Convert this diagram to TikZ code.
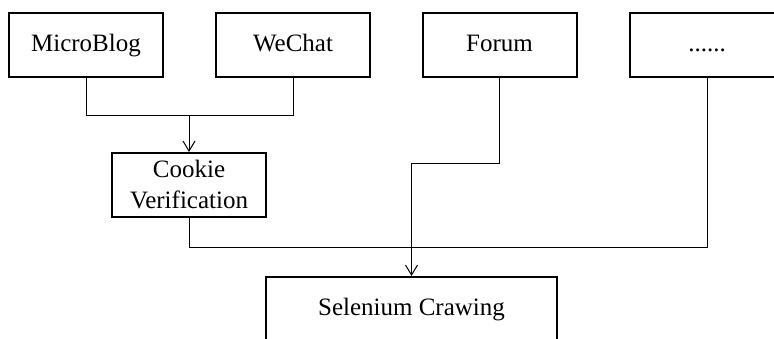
\documentclass[tikz,border=0pt]{standalone}
\usepackage{fontspec}
\setmainfont{Liberation Serif}
\usetikzlibrary{arrows.meta}

\begin{document}
\begin{tikzpicture}[
        x=0.5pt, y=-0.5pt,
        box/.style={
        rectangle, draw=black, line width=1pt,
        inner sep=0pt, minimum width=77pt, minimum height=32pt,
        align=center, font=\fontsize{12.5}{15.5}\selectfont},
        oneline/.style={text height=1.5ex, text depth=0pt},
        link/.style={line width=0.5pt},
        ]

        \useasboundingbox (0,0) rectangle (774,338);
        \clip (0,0) rectangle (774,338);

        \node (mb) [box, oneline] at (86,45){MicroBlog};
        \node (wc) [box, oneline] at (293,45){WeChat};
        \node (fm) [box, oneline] at (499.5,45){Forum};
        \node (dt) [box, oneline] at (707,45){......};
        \node (ck) [box] at (189,185){Cookie\\Verification};
        \node (sc) [box, oneline, minimum width=145.5pt] at (411.5,309){Selenium Crawing};

        \coordinate (j1) at (189,115);
        \coordinate (j2) at (707,247);
        \coordinate (j3) at (411.5,163);

        \draw [link] (mb.south) |- (j1) (wc.south) |- (j1);
        \draw [link, -{Straight Barb[length=5pt,width=6pt]}] (j1) -- (ck.north);
        \draw [link] (ck.south) |- (j2) -- (dt.south);
        \draw [link, -{Straight Barb[length=5pt,width=6pt]}] (fm.south) |- (j3) -- (sc.north);
    \end{tikzpicture}
\end{document}
